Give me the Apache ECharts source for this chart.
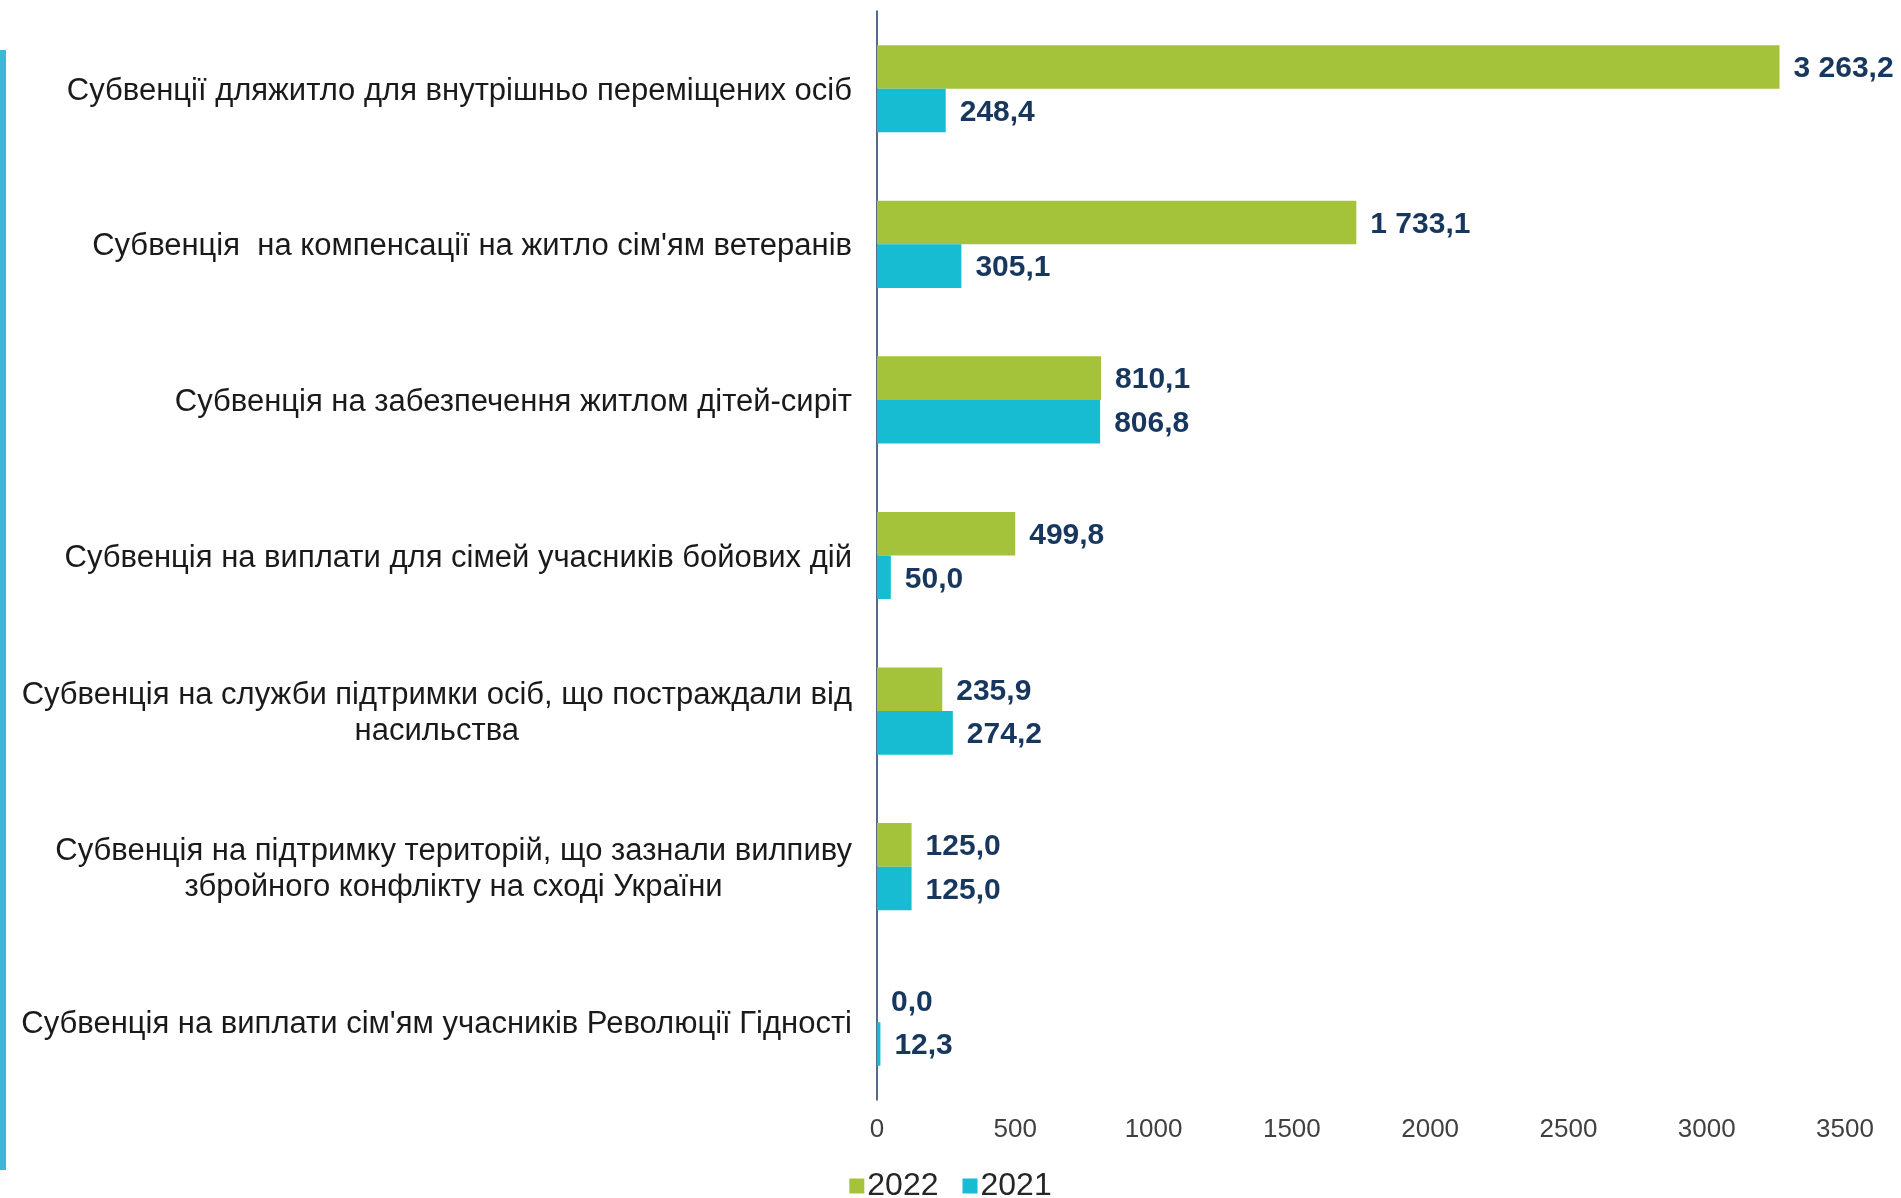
<!DOCTYPE html>
<html>
<head>
<meta charset="utf-8">
<script src="https://cdn.jsdelivr.net/npm/echarts@6/dist/echarts.min.js"></script>
<style>
html,body{margin:0;padding:0;background:#fff;}
#c{width:1901px;height:1198px;}
</style>
</head>
<body>
<div id="c"></div>
<script>
const categories = [
  "Субвенції дляжитло для внутрішньо переміщених осіб",
  "Субвенція  на компенсації на житло сім'ям ветеранів",
  "Субвенція на забезпечення житлом дітей-сиріт",
  "Субвенція на виплати для сімей учасників бойових дій",
  "Субвенція на служби підтримки осіб, що постраждали від\nнасильства",
  "Субвенція на підтримку територій, що зазнали вилпиву\nзбройного конфлікту на сході України",
  "Субвенція на виплати сім'ям учасників Революції Гідності"
];
const values2022 = [3263.2, 1733.1, 810.1, 499.8, 235.9, 125.0, 0.0];
const values2021 = [248.4, 305.1, 806.8, 50.0, 274.2, 125.0, 12.3];
const seriesNames = ["2022", "2021"];
const xTicks = [0, 500, 1000, 1500, 2000, 2500, 3000, 3500];

function fmt(v) {
  const s = v.toFixed(1).split('.');
  const int = s[0].replace(/\B(?=(\d{3})+(?!\d))/g, ' ');
  return int + ',' + s[1];
}

const chart = echarts.init(document.getElementById('c'), null, {renderer: 'canvas'});
const labelStyle = {
  show: true,
  position: 'right',
  distance: 14,
  offset: [0, 2],
  color: '#17375E',
  fontWeight: 'bold',
  fontSize: 30,
  fontFamily: 'Liberation Sans, Arial, sans-serif',
  formatter: p => fmt(p.value)
};
chart.setOption({
  animation: false,
  backgroundColor: '#ffffff',
  graphic: [{
    type: 'rect',
    shape: {x: 0, y: 50, width: 6, height: 1120},
    style: {fill: '#3DB8D4'}
  }],
  grid: {left: 877, right: 56, top: 11, bottom: 98, containLabel: false},
  legend: {
    data: seriesNames,
    top: 1165,
    left: 'center',
    itemWidth: 15,
    itemHeight: 15,
    itemGap: 24,
    icon: 'rect',
    textStyle: {fontSize: 32, color: '#262626', fontFamily: 'Liberation Sans, Arial, sans-serif', padding: [0, 0, 0, -2]}
  },
  xAxis: {
    type: 'value',
    min: xTicks[0],
    max: xTicks[xTicks.length - 1],
    interval: 500,
    axisLine: {show: false},
    axisTick: {show: false},
    splitLine: {show: false},
    axisLabel: {fontSize: 26, color: '#404040', margin: 17, fontFamily: 'Liberation Sans, Arial, sans-serif', formatter: v => String(v)}
  },
  yAxis: {
    type: 'category',
    data: categories,
    inverse: true,
    axisLine: {show: true, lineStyle: {color: '#1F3A5F', width: 1.5}},
    axisTick: {show: false},
    axisLabel: {
      margin: 25,
      padding: [5, 0, 0, 0],
      formatter: v => v.split('\n').map(l => '{a|' + l + '}').join('\n'),
      rich: {
        a: {align: 'center', fontSize: 31, lineHeight: 36, color: '#1a1a1a', fontFamily: 'Liberation Sans, Arial, sans-serif'}
      }
    }
  },
  series: [
    {
      name: seriesNames[0], type: 'bar', data: values2022,
      itemStyle: {color: '#A4C23A'},
      barGap: '0%', barCategoryGap: '44%',
      label: labelStyle
    },
    {
      name: seriesNames[1], type: 'bar', data: values2021,
      itemStyle: {color: '#17BCD2'},
      barGap: '0%', barCategoryGap: '44%',
      label: labelStyle
    }
  ]
});
</script>
</body>
</html>
